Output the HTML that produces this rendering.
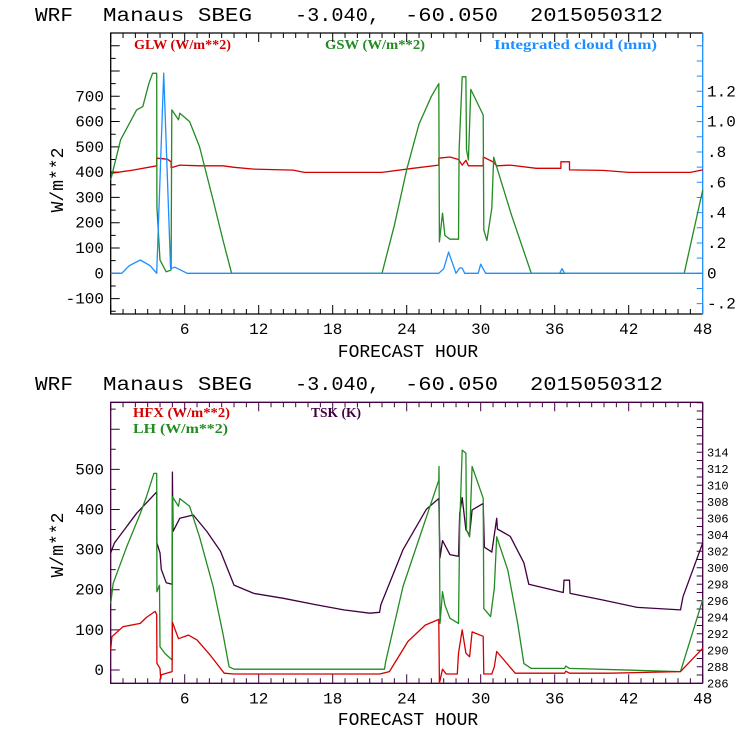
<!DOCTYPE html>
<html><head><meta charset="utf-8"><style>
html,body{margin:0;padding:0;background:#fff;}
svg{display:block;}
text{font-family:"Liberation Mono","DejaVu Sans Mono",monospace;}
.lg{font-family:"Liberation Serif",serif;font-weight:bold;font-size:14px;}
</style></head><body>
<svg id="c" width="740" height="740" viewBox="0 0 740 740" xmlns="http://www.w3.org/2000/svg">
<g font-size="19" fill="#000">
<text x="35" y="21" textLength="38" lengthAdjust="spacingAndGlyphs">WRF</text>
<text x="103" y="21" textLength="149" lengthAdjust="spacingAndGlyphs">Manaus SBEG</text>
<text x="295" y="21" textLength="85" lengthAdjust="spacingAndGlyphs">-3.040,</text>
<text x="405" y="21" textLength="93" lengthAdjust="spacingAndGlyphs">-60.050</text>
<text x="530" y="21" textLength="133" lengthAdjust="spacingAndGlyphs">2015050312</text>
</g>
<g font-size="19" fill="#000">
<text x="35" y="390" textLength="38" lengthAdjust="spacingAndGlyphs">WRF</text>
<text x="103" y="390" textLength="149" lengthAdjust="spacingAndGlyphs">Manaus SBEG</text>
<text x="295" y="390" textLength="85" lengthAdjust="spacingAndGlyphs">-3.040,</text>
<text x="405" y="390" textLength="93" lengthAdjust="spacingAndGlyphs">-60.050</text>
<text x="530" y="390" textLength="133" lengthAdjust="spacingAndGlyphs">2015050312</text>
</g>
<text class="lg" x="134" y="49" fill="#d40000" textLength="97" lengthAdjust="spacingAndGlyphs">GLW (W/m**2)</text>
<text class="lg" x="325" y="49" fill="#228b22" textLength="100" lengthAdjust="spacingAndGlyphs">GSW (W/m**2)</text>
<text class="lg" x="494" y="49" fill="#1e8fff" textLength="163" lengthAdjust="spacingAndGlyphs">Integrated cloud (mm)</text>
<text class="lg" x="133" y="417" fill="#d40000" textLength="97" lengthAdjust="spacingAndGlyphs">HFX (W/m**2)</text>
<text class="lg" x="133" y="433" fill="#228b22" textLength="95" lengthAdjust="spacingAndGlyphs">LH  (W/m**2)</text>
<text class="lg" x="311" y="417" fill="#400040" textLength="50" lengthAdjust="spacingAndGlyphs">TSK (K)</text>
<text x="408" y="357" font-size="18" text-anchor="middle">FORECAST HOUR</text>
<text x="408" y="725" font-size="18" text-anchor="middle">FORECAST HOUR</text>
<text transform="translate(63,180) rotate(-90)" font-size="18" text-anchor="middle">W/m**2</text>
<text transform="translate(63,545) rotate(-90)" font-size="18" text-anchor="middle">W/m**2</text>
</svg>
<script>
// ---- data (hour, value) ----
const glwHours=[0,1.8,3.73,3.73,4.6,4.9,4.9,5.6,7.2,9.1,10,11.6,14.8,15.7,22.0,24.5,26.6,26.6,27.5,28.2,28.5,28.8,29.0,30.2,30.2,31.0,31.3,32.4,34.5,36.5,36.5,37.2,37.2,39.9,42,47,48];
const glwVals=[395,408,425,455,451,441,417,428,425,425,419,412,408,399,399,415,428,455,460,450,428,447,425,425,460,441,425,428,415,415,441,441,409,407,399,399,409];
const gswHours=[0,0.8,2.1,2.6,3.1,3.4,3.73,3.75,4.0,4.5,4.9,4.95,5.5,5.6,6.4,7.2,8.3,9.1,9.8,22.0,23.0,24.0,25.0,26.0,26.6,26.65,26.9,27.1,27.5,28.2,28.25,28.5,28.8,28.85,29.0,29.2,30.2,30.25,30.5,30.9,31.05,32.5,34.1,46.5,48];
const gswVals=[369,528,646,659,751,791,791,263,52,6,13,646,607,633,600,501,290,132,0,0,190,410,590,700,750,124,238,150,135,135,487,777,777,490,448,727,626,171,130,257,459,230,0,0,329];
const cloudHours=[0,0.9,1.5,2.4,3.2,3.73,4.3,4.86,5.2,6.2,26.6,27.0,27.4,28.0,28.3,28.5,28.7,29.8,30.0,30.4,36.4,36.6,36.8,48];
const cloudVals=[0,0,0.05,0.088,0.05,0,1.32,0.03,0.04,0,0,0.03,0.14,0,0.035,0.035,0,0,0.06,0,0,0.03,0,0];
const hfxHours=[0,0.1,1.0,2.4,2.9,3.6,3.73,3.75,4.0,4.05,4.1,4.98,5.0,5.5,6.3,7.0,8.1,9.2,10,21.8,22.6,24.1,25.5,26.6,26.65,26.9,27.2,28.1,28.2,28.5,28.8,29.1,29.3,30.2,30.25,30.9,31.1,31.3,32.8,36.8,36.9,37.2,40.5,46.2,48];
const hfxVals=[50,83,108,116,131,146,138,17,4,-22,-12,-4,119,78,87,75,36,-8,-10,-10,-4,71,112,126,-33,2,-10,-10,42,100,42,33,95,84,-10,-10,8,46,-8,-8,-3,-8,-8,-4,54];
const lhHours=[0,0.2,1.3,2.4,2.9,3.5,3.73,3.75,3.96,4.0,4.4,4.98,5.0,5.5,5.6,6.4,7.2,8.3,9.1,9.6,10,21,22.2,22.3,23.7,26.6,26.62,26.7,26.9,27.1,27.5,28.2,28.3,28.5,28.8,28.85,29.1,29.3,30.2,30.25,30.8,31.1,31.3,32.2,33.0,33.5,34.1,36.8,36.9,37.2,46.2,48];
const lhVals=[166,216,307,390,432,490,490,195,211,58,41,25,432,408,427,408,332,208,91,8,2,2,2,21,208,473,507,116,195,162,129,116,357,548,540,349,332,507,428,153,133,203,332,249,116,16,4,4,10,4,-4,175];
const tskHours=[0,0.3,2.1,3.73,3.75,4.0,4.1,4.5,4.98,5.0,5.05,5.6,6.7,7.8,8.9,10,11.6,14,16.7,18.9,21,21.8,21.9,23.7,25.6,26.6,26.7,26.9,27.5,28.2,28.3,28.5,28.8,29.1,29.3,30.2,30.3,30.9,31.3,31.35,32.4,33.5,33.9,36.7,36.75,37.2,37.25,39.9,42.7,46.2,46.4,48];
const tskVals=[301.8,303.0,306.6,309.2,303.0,301.8,299.8,298.2,298.0,311.6,304.4,306.0,306.4,304.4,302.0,297.9,296.9,296.3,295.5,294.9,294.5,294.6,295.5,302.2,307.1,308.4,301.2,303.3,301.6,301.4,306.6,308.5,304.6,304.0,307.0,307.8,302.5,301.9,306.0,304.7,303.8,300.6,298.0,297.0,298.5,298.5,296.9,296.1,295.2,294.9,296.5,303.0];
const xTickLabels=[6,12,18,24,30,36,42,48];
const topLeftTicks=[-100,0,100,200,300,400,500,600,700];
const topRightTicks=[-0.2,0,0.2,0.4,0.6,0.8,1.0,1.2];
const botLeftTicks=[0,100,200,300,400,500];
const botRightTicks=[286,288,290,292,294,296,298,300,302,304,306,308,310,312,314];

const NS='http://www.w3.org/2000/svg';
const svg=document.getElementById('c');
const X0=110.7,X1=702.7;
const xs=h=>X0+(X1-X0)*h/48;
const P1={top:33,bot:314};
const yTopL=v=>273.3-v*0.2529;
const yTopR=v=>273.3-v*151.67;
const P2={top:402.3,bot:683.3};
const yBotL=v=>670-v*0.4013;
const yBotR=v=>683.3-(v-286)*8.25;

function mk(tag,attrs,parent){const e=document.createElementNS(NS,tag);for(const k in attrs)e.setAttribute(k,attrs[k]);(parent||svg).appendChild(e);return e;}
function fmtR(v){if(v===0)return '0';let s=v.toFixed(1);s=s.replace(/^0\./,'.').replace(/^-0\./,'-.');return s;}

function axes(P,yL,lTicks,lMinorStep,lMin,lMax,yR,rTicks,rMinorStep,rMin,rMax,frameColor,rightColor,rFont,rFmt,name){
  const g=mk('g',{});
  
  
  let d='';
  for(let h=0;h<=48;h++){const x=xs(h);const L=(h%6===0)?9:5;d+=`M${x},${P.bot}v${-L}M${x},${P.top}v${L}`;}
  for(let v=lMin;v<=lMax+1e-9;v+=lMinorStep){const y=yL(v);if(y<P.top||y>P.bot)continue;const L=(Math.abs(v%100)<1e-6)?9:5;d+=`M${X0},${y}h${L}`;}
  mk('path',{d:d,stroke:frameColor,'stroke-width':1,fill:'none'},g);
  let dr='';
  for(let v=rMin;v<=rMax+1e-9;v+=rMinorStep){const y=yR(v);if(y<P.top-0.5||y>P.bot+0.5)continue;dr+=`M${X1},${y}h-6`;}
  mk('path',{d:dr,stroke:rightColor,'stroke-width':1,fill:'none'},g);
  mk('path',{d:`M${X1},${P.top}H${X0}V${P.bot}H${X1}`,stroke:frameColor,'stroke-width':1.3,fill:'none'},g);
  mk('line',{x1:X1,y1:P.top,x2:X1,y2:P.bot,stroke:rightColor,'stroke-width':1.3},g);
  xTickLabels.forEach(h=>{const t=mk('text',{x:xs(h),y:P.bot+20,'font-size':16,'text-anchor':'middle'},g);t.textContent=h;});
  lTicks.forEach(v=>{const t=mk('text',{x:104,y:yL(v)+5,'font-size':16,'text-anchor':'end'},g);t.textContent=v;});
  rTicks.forEach(v=>{const t=mk('text',{x:707,y:yR(v)+(rFont>12?5:4),'font-size':rFont},g);t.textContent=rFmt(v);});
}
function line(hs,vs,yf,color,name){
  let d='';
  hs.forEach((h,i)=>{d+=(i?'L':'M')+xs(h).toFixed(1)+','+yf(vs[i]).toFixed(1);});
  const p=mk('path',{d:d,stroke:color,'stroke-width':1.3,fill:'none','stroke-linejoin':'round'});
  
  
}
axes(P1,yTopL,topLeftTicks,50,-150,950,yTopR,topRightTicks,0.1,-0.2,1.8,'#000','#1e8fff',16,fmtR,'top');
axes(P2,yBotL,botLeftTicks,50,-50,650,yBotR,botRightTicks,1,286,320,'#400040','#400040',12,v=>String(v),'bottom');
line(glwHours,glwVals,yTopL,'#d40000','glw-line');
line(gswHours,gswVals,yTopL,'#228b22','gsw-line');
line(cloudHours,cloudVals,yTopR,'#1e8fff','cloud-line');
line(tskHours,tskVals,yBotR,'#400040','tsk-line');
line(lhHours,lhVals,yBotL,'#228b22','lh-line');
line(hfxHours,hfxVals,yBotL,'#d40000','hfx-line');
</script>
</body></html>
